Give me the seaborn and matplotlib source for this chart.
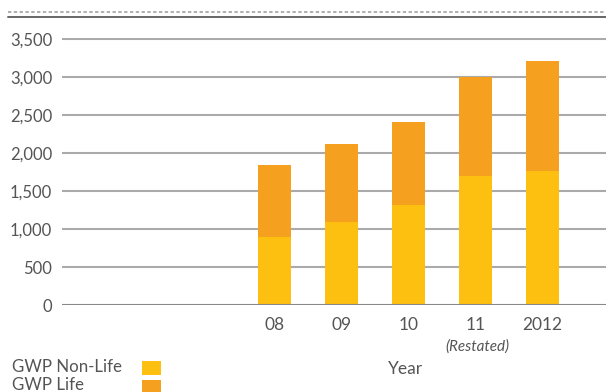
import matplotlib
matplotlib.use("Agg")
import matplotlib.pyplot as plt
from matplotlib.patches import Rectangle
from matplotlib.lines import Line2D
import seaborn as sns
import pandas as pd

# Gross written premium by year
years = ["08", "09", "10", "11", "2012"]
gwp_non_life = [900, 1096, 1316, 1697, 1763]
gwp_life = [942, 1022, 1092, 1303, 1447]
y_ticks = [0, 500, 1000, 1500, 2000, 2500, 3000, 3500]

col_non_life = "#FDC010"
col_life = "#F5A01E"
text_col = "#555555"

sns.set_theme(style="white")
plt.rcParams["font.family"] = ["Lato", "DejaVu Sans"]

df = pd.DataFrame({
    "year": years,
    "non_life": gwp_non_life,
    "total": [a + b for a, b in zip(gwp_non_life, gwp_life)],
})
# three empty slots ahead of the first year
order = ["", " ", "  "] + years

W, H = 606, 392
fig = plt.figure(figsize=(W / 100, H / 100), dpi=100)
ax = fig.add_axes([62 / W, (H - 305) / H, 1 - 62 / W, (305 - 37.5) / H])

sns.barplot(data=df, x="year", y="total", order=order, color=col_life,
            width=0.49, saturation=1, linewidth=0, ax=ax, zorder=3)
sns.barplot(data=df, x="year", y="non_life", order=order, color=col_non_life,
            width=0.49, saturation=1, linewidth=0, ax=ax, zorder=3)

ax.set_xlim(-0.17, 7.95)
ax.set_ylim(0, 3520)
ax.set_yticks(y_ticks)
ax.set_yticklabels([f"{v:,}" for v in y_ticks])
ax.set_xticks(range(len(order)))
ax.set_xticklabels(order)
for v in y_ticks[1:]:
    ax.axhline(v, color="#aaaaaa", lw=1.5, zorder=1)
ax.axhline(0, color="#888888", lw=1.5, zorder=4)

ax.tick_params(axis="y", length=0, pad=7, labelsize=12, labelcolor=text_col)
ax.tick_params(axis="x", length=0, pad=9, labelsize=12.5, labelcolor=text_col)
ax.set_xlabel("")
ax.set_ylabel("")
for s in ax.spines.values():
    s.set_visible(False)

# Rules across the top
fig.add_artist(Line2D([8 / W, 1], [1 - 11.5 / H] * 2, color="#9a9a9a", lw=1.1,
                      linestyle=(0, (2.2, 1.6))))
fig.add_artist(Line2D([8 / W, 1], [1 - 16.5 / H] * 2, color="#666666", lw=1.4))

# Annotations under the axis
fig.text(477 / W, 1 - 347 / H, "(Restated)", ha="center", va="center",
         fontsize=11, style="italic", color=text_col)
fig.text(406 / W, 1 - 369 / H, "Year", ha="center", va="center",
         fontsize=12.5, color=text_col)

# Legend
fig.text(12 / W, 1 - 367 / H, "GWP Non-Life", ha="left", va="center",
         fontsize=12.2, color=text_col)
fig.text(12 / W, 1 - 385 / H, "GWP Life", ha="left", va="center",
         fontsize=12.2, color=text_col)
fig.add_artist(Rectangle((142 / W, 1 - 375 / H), 19 / W, 14 / H,
                         transform=fig.transFigure, color=col_non_life, lw=0))
fig.add_artist(Rectangle((142 / W, 1 - 394 / H), 19 / W, 14 / H,
                         transform=fig.transFigure, color=col_life, lw=0))

fig.savefig("out.png", dpi=100)
